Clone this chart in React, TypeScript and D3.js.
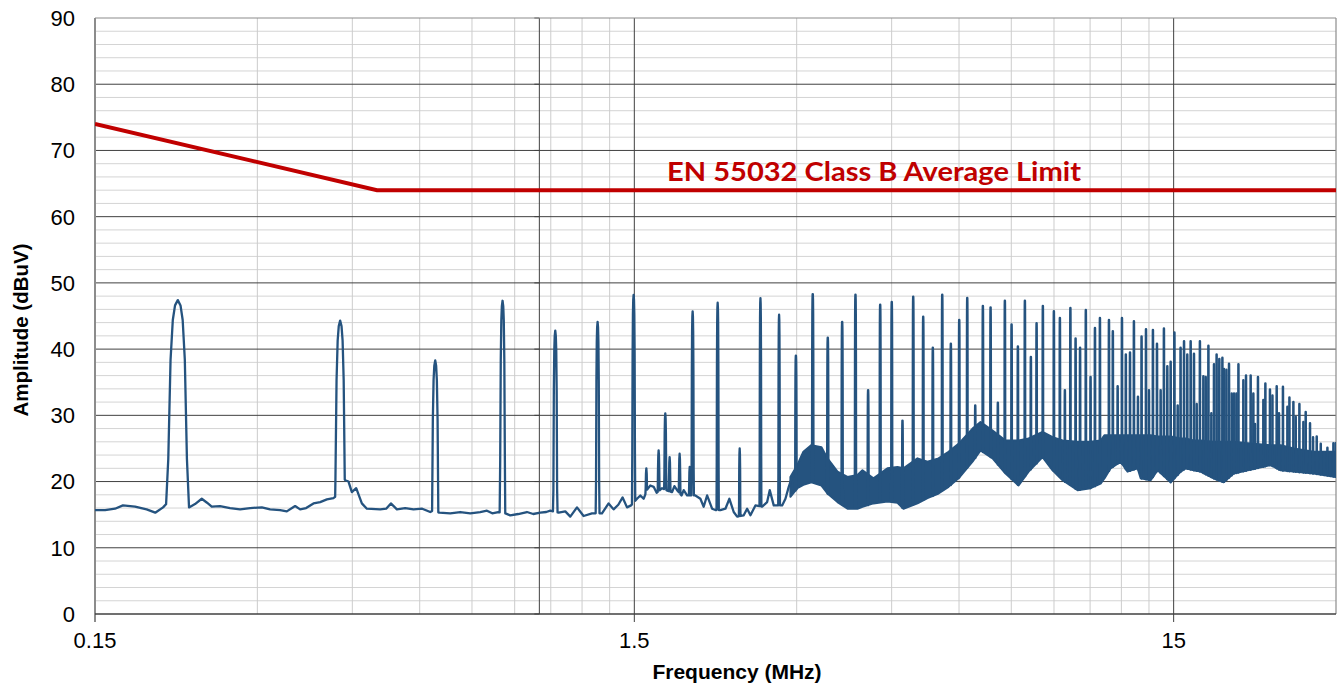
import React from "react";
import * as d3 from "d3";

// Axis ticks
const yTickValues = [0, 10, 20, 30, 40, 50, 60, 70, 80, 90];
const xTickValues = [0.15, 1.5, 15];
const xTickLabels = ["0.15", "1.5", "15"];
const xMinorGrid = [0.3, 0.45, 0.6, 0.75, 0.9, 1.05, 1.2, 1.35, 3, 4.5, 6, 7.5, 9, 10.5, 12, 13.5];
const markerFreq = 1.0;

// EN 55032 Class B average limit (MHz, dBuV)
const limitFreq = [0.15, 0.5, 30];
const limitDb = [74, 64, 64];

// Noise floor of the measured spectrum below ~3 MHz (MHz, dBuV)
const floorFreq = [
  0.15, 0.1566, 0.1634, 0.169, 0.178, 0.187, 0.194, 0.2006, 0.2032, 0.2241, 0.2299, 0.2366, 0.242,
  0.2469, 0.2558, 0.267, 0.2787, 0.2909, 0.3058, 0.3168, 0.3306, 0.3402, 0.3525, 0.3601, 0.3695,
  0.3812, 0.3923, 0.4037, 0.4152, 0.4182, 0.4365, 0.4427, 0.4491, 0.4575, 0.4687, 0.4788, 0.5069,
  0.52, 0.5305, 0.5443, 0.5639, 0.5843, 0.6064, 0.6275, 0.6342, 0.6529, 0.6834, 0.7133, 0.7445,
  0.7769, 0.7995, 0.8178, 0.839, 0.8645, 0.8831, 0.9139, 0.9484, 0.9743, 1.0039, 1.03, 1.0478,
  1.0856, 1.1171, 1.1412, 1.1743, 1.2079, 1.252, 1.3066, 1.344, 1.373, 1.4009, 1.4269, 1.454,
  1.479, 1.5174, 1.539, 1.5608, 1.585, 1.606, 1.629, 1.65, 1.6886, 1.73, 1.7624, 1.78, 1.8005,
  1.835, 1.8519, 1.879, 1.9467, 1.9887, 2.0169, 2.0465, 2.0907, 2.1204, 2.1662, 2.213, 2.2511,
  2.2929, 2.3265, 2.393, 2.428, 2.4626, 2.5157, 2.5887, 2.6445, 2.674, 2.7201, 2.8194, 2.8595,
  2.9001, 2.9426,
];
const floorDb = [
  15.7, 15.7, 15.9, 16.4, 16.2, 15.8, 15.3, 16.1, 16.6, 16.1, 16.6, 17.4, 16.8,
  16.2, 16.3, 16.0, 15.8, 16.0, 16.1, 15.8, 15.7, 15.5, 16.3, 15.8, 16.0,
  16.7, 16.9, 17.3, 17.5, 17.7, 20.2, 20.0, 18.4, 19.0, 16.7, 15.9, 15.8,
  15.9, 16.7, 15.8, 16.0, 15.8, 15.9, 15.4, 15.6, 15.3, 15.2, 15.4, 15.2,
  15.4, 15.6, 15.2, 15.4, 15.2, 14.9, 15.1, 15.4, 15.1, 15.3, 15.4, 15.6,
  15.3, 15.5, 14.7, 16.1, 14.8, 15.2, 15.2, 16.7, 15.8, 16.5, 17.6, 16.1,
  16.4, 17.4, 17.9, 17.4, 18.8, 19.4, 19.2, 18.3, 19.0, 18.6, 18.4, 19.3, 18.7,
  17.9, 18.7, 17.9, 17.9, 17.4, 16.2, 17.9, 15.9, 15.7, 15.7, 15.9, 17.4,
  15.4, 14.7, 14.9, 15.9, 14.9, 16.4, 16.2, 16.9, 18.7, 16.4, 16.4, 17.4,
  19.2, 20.7,
];

// Dense emission band above ~3 MHz: lower and upper edges (MHz, dBuV)
const bandFreq = [
  2.9205, 3.009, 3.087, 3.195, 3.335, 3.422, 3.571, 3.727, 3.889, 3.973, 4.164, 4.42, 4.613, 4.733,
  5.025, 5.244, 5.497, 5.737, 5.988, 6.356, 6.577, 6.924, 7.319, 7.737, 8.075, 8.571, 8.946, 9.336,
  9.953, 10.52, 10.98, 11.17, 11.46, 11.96, 12.32, 12.86, 13.03, 13.6, 14.01, 14.81, 15.46, 15.79,
  16.34, 16.83, 17.79, 18.57, 19.38, 20.58, 22.7, 23.69, 25.04, 27.28, 30,
];
const bandLow = [
  17.7, 19.0, 19.5, 19.9, 19.4, 18.2, 16.9, 15.9, 15.9, 16.2, 16.7, 17.0, 16.8, 15.9,
  16.7, 17.5, 18.2, 19.2, 20.5, 23.0, 24.7, 23.5, 21.2, 19.4, 21.5, 23.7, 21.7, 20.2,
  18.7, 19.0, 19.7, 20.5, 22.0, 23.0, 21.5, 22.0, 20.5, 20.2, 21.7, 19.9, 21.5, 22.0,
  21.7, 21.5, 20.5, 19.9, 21.2, 21.7, 22.5, 21.7, 21.5, 21.2, 20.7,
];
const bandHigh = [
  20.7, 22.5, 24.5, 25.5, 25.2, 23.5, 21.5, 20.7, 21.0, 21.7, 20.5, 22.0, 22.2, 22.0,
  23.5, 23.0, 23.5, 24.5, 25.7, 28.0, 29.0, 27.7, 26.2, 26.2, 26.5, 27.5, 26.7, 26.2,
  26.0, 26.0, 26.2, 27.0, 27.0, 27.0, 27.0, 27.0, 27.0, 27.0, 26.8, 26.8, 26.5, 26.5,
  26.2, 26.2, 26.0, 26.0, 26.0, 25.8, 25.5, 25.5, 25.0, 24.5, 24.5,
];

// Harmonic / spurious peaks (MHz, dBuV)
const peakFreq = [
  0.2136, 0.4272, 0.6411, 0.8546, 1.0703, 1.2823, 1.4955, 1.579, 1.664, 1.712, 1.744, 1.82, 1.9,
  1.924, 2.141, 2.352, 2.57, 2.783, 2.99, 3.213, 3.426, 3.643, 3.856, 4.07, 4.285, 4.502, 4.713,
  4.934, 5.149, 5.365, 5.585, 5.794, 6.005, 6.214, 6.43, 6.643, 6.865, 7.082, 7.297, 7.509, 7.714,
  7.948, 8.154, 8.355, 8.582, 8.995, 9.229, 9.428, 9.652, 9.869, 10.06, 10.31, 10.52, 10.72, 10.95,
  11.38, 11.57, 11.81, 12.03, 12.23, 12.45, 12.66, 12.88, 13.08, 13.33, 13.5, 13.73, 13.97, 14.19,
  14.39, 14.6, 14.81, 15.05, 15.26, 15.45, 15.68, 15.9, 16.13, 16.36, 16.55, 16.78, 17.03, 17.2,
  17.4, 17.62, 17.82, 18.02, 18.23, 18.47, 18.6, 18.79, 19.0, 19.22, 19.41, 19.61, 19.78, 20.2,
  20.43, 20.84, 21.08, 21.23, 21.5, 22.0, 22.19, 22.63, 22.87, 23.29, 23.52, 23.92, 24.38, 24.59,
  25.01, 25.26, 25.66, 26.1, 26.36, 26.85, 27.2, 27.63, 28.11, 28.51, 28.92, 29.25, 29.67, 29.95,
];
const peakDb = [
  47.4, 44.3, 38.3, 47.3, 42.8, 44.1, 48.2, 22.0, 24.7, 30.3, 23.7, 24.2, 22.2,
  45.7, 47.0, 25.0, 47.7, 45.2, 39.0, 48.3, 41.7, 44.1, 48.2, 33.8, 46.7, 47.1, 29.2,
  47.9, 44.9, 40.2, 48.2, 40.8, 44.4, 47.7, 31.5, 46.5, 46.3, 31.9, 47.3, 43.7, 40.4,
  47.3, 38.8, 43.9, 46.5, 45.7, 44.7, 33.8, 46.2, 41.6, 40.2, 45.9, 35.8, 43.2, 44.7,
  44.4, 42.7, 34.4, 44.7, 39.2, 39.5, 44.2, 32.8, 41.9, 43.0, 33.8, 42.9, 40.8, 33.8,
  43.1, 37.4, 38.1, 42.5, 31.5, 40.2, 41.2, 39.2, 41.2, 39.3, 31.7, 41.2, 35.9, 35.8,
  40.5, 30.3, 37.7, 39.2, 38.5, 38.7, 37.0, 36.9, 37.8, 33.3, 33.3, 33.3, 37.7, 35.3,
  36.0, 36.0, 33.3, 28.7, 35.8, 32.3, 34.8, 33.9, 33.0, 34.4, 30.3, 34.3, 31.3, 32.7,
  32.0, 29.8, 31.7, 29.0, 30.5, 28.8, 26.7, 26.8, 25.7, 24.3, 25.1, 24.1, 25.8, 25.8,
];

// Receiver filter skirt: frequency offset from a carrier (MHz) vs. level below its peak (dB)
const rbwOffset = [0, 0.0025, 0.0045, 0.0065, 0.0085, 0.0105];
const rbwDrop = [0, 0.8, 3, 9, 24, 42];

const TRACE = "#25537f";
const LIMIT = "#c00000";
const TICK_FONT = "'Liberation Sans', Arial, sans-serif";

export default function App() {
  const width = 1342;
  const height = 685;
  const x0 = 95;
  const x1 = 1336;
  const yTop = 18;
  const yBot = 614;

  const x = d3.scaleLog().domain([0.15, 30]).range([x0, x1]);
  const y = d3.scaleLinear().domain([0, 90]).range([yBot, yTop]);

  const floorAt = d3.scaleLinear().domain(floorFreq).range(floorDb).clamp(true);
  const bandLowAt = d3.scaleLinear().domain(bandFreq).range(bandLow).clamp(true);
  const dropAt = d3.scaleLinear().domain(rbwOffset).range(rbwDrop).clamp(true);
  const skirt = rbwOffset[rbwOffset.length - 1];
  const bandStart = bandFreq[0];

  const peaks = peakFreq.map((f, i) => ({ f, db: peakDb[i] }));
  const lowPeaks = peaks.filter((p) => p.f < bandStart);
  const highPeaks = peaks.filter((p) => p.f >= bandStart);

  // Low-frequency trace: floor with the carriers riding on it
  const freqs: number[] = [...floorFreq];
  lowPeaks.forEach((p) => {
    rbwOffset.forEach((o) => {
      freqs.push(p.f - o, p.f + o);
    });
  });
  const sorted = Array.from(new Set(freqs))
    .filter((f) => f >= floorFreq[0] && f <= floorFreq[floorFreq.length - 1])
    .sort((a, b) => a - b);
  const lowTrace = sorted.map((f) => {
    let v = floorAt(f);
    lowPeaks.forEach((p) => {
      const d = Math.abs(f - p.f);
      if (d <= skirt) v = Math.max(v, p.db - dropAt(d));
    });
    return [f, v] as [number, number];
  });

  const line = d3
    .line<[number, number]>()
    .x((d) => x(d[0]))
    .y((d) => y(d[1]));

  const bandData = bandFreq.map((f, i) => ({ f, lo: bandLow[i], hi: bandHigh[i] }));
  const area = d3
    .area<{ f: number; lo: number; hi: number }>()
    .x((d) => x(d.f))
    .y0((d) => y(d.lo))
    .y1((d) => y(d.hi));

  const spikePaths = highPeaks.map((p) => {
    const offs = [...rbwOffset.slice(1).reverse().map((o) => -o), ...rbwOffset];
    const pts = offs.map((o) => {
      const f = Math.min(30, Math.max(0.15, p.f + o));
      const v = Math.max(bandLowAt(f), p.db - dropAt(Math.abs(o)));
      return [f, v] as [number, number];
    });
    return line(pts) || "";
  });

  const limitPath = line(limitFreq.map((f, i) => [f, limitDb[i]] as [number, number])) || "";

  const hMinor = d3.range(2, 90, 2).filter((v) => v % 10 !== 0);
  const hMajor = yTickValues.filter((v) => v > 0 && v < 90);

  return (
    <svg width={width} height={height} style={{ display: "block", position: "absolute", left: 0, top: 0 }}>
      <rect x={0} y={0} width={width} height={height} fill="#ffffff" />
      <defs>
        <clipPath id="plot-clip">
          <rect x={x0} y={yTop} width={x1 - x0} height={yBot - yTop} />
        </clipPath>
      </defs>

      {/* minor gridlines */}
      <g stroke="#d4d4d4" strokeWidth={1}>
        {hMinor.map((v) => (
          <line key={`hm${v}`} x1={x0} x2={x1} y1={y(v)} y2={y(v)} />
        ))}
      </g>
      <g stroke="#cccccc" strokeWidth={1}>
        {xMinorGrid.map((f) => (
          <line key={`vm${f}`} x1={x(f)} x2={x(f)} y1={yTop} y2={yBot} />
        ))}
      </g>

      {/* major gridlines */}
      <g stroke="#404040" strokeWidth={1}>
        {hMajor.map((v) => (
          <line key={`hM${v}`} x1={x0} x2={x1} y1={y(v)} y2={y(v)} />
        ))}
        {xTickValues.slice(1).map((f) => (
          <line key={`vM${f}`} x1={x(f)} x2={x(f)} y1={yTop} y2={yBot + 8} />
        ))}
        <line x1={x(markerFreq)} x2={x(markerFreq)} y1={yTop} y2={yBot} />
        {yTickValues.map((v) => (
          <line key={`mt${v}`} x1={x(markerFreq) - 5} x2={x(markerFreq)} y1={y(v)} y2={y(v)} />
        ))}
      </g>

      {/* plot frame */}
      <line x1={x0} x2={x1} y1={yTop} y2={yTop} stroke="#8c8c8c" strokeWidth={1.2} />
      <line x1={x1} x2={x1} y1={yTop} y2={yBot} stroke="#8c8c8c" strokeWidth={1.2} />
      <line x1={x0} x2={x0} y1={yTop} y2={yBot + 8} stroke="#8c8c8c" strokeWidth={2} />
      <line x1={x0} x2={x1} y1={yBot} y2={yBot} stroke="#404040" strokeWidth={1.5} />

      {/* spectrum */}
      <g clipPath="url(#plot-clip)">
        <path d={area(bandData) || ""} fill={TRACE} stroke={TRACE} strokeWidth={2} strokeLinejoin="round" />
        {spikePaths.map((d, i) => (
          <path key={`sp${i}`} d={d} fill="none" stroke={TRACE} strokeWidth={2.5} strokeLinejoin="round" />
        ))}
        <path d={line(lowTrace) || ""} fill="none" stroke={TRACE} strokeWidth={2.3} strokeLinejoin="round" />
        <path d={limitPath} fill="none" stroke={LIMIT} strokeWidth={4} />
      </g>

      <text
        x={667}
        y={181}
        fill={LIMIT}
        fontFamily="Lato, 'Open Sans', sans-serif"
        fontWeight={700}
        fontSize={27}
        textLength={414}
        lengthAdjust="spacingAndGlyphs"
      >
        EN 55032 Class B Average Limit
      </text>

      {/* y tick labels */}
      <g fontFamily={TICK_FONT} fontSize={22} fill="#000" textAnchor="end">
        {yTickValues.map((v) => (
          <text key={`yl${v}`} x={75} y={y(v)} dy="0.36em">
            {v}
          </text>
        ))}
      </g>

      {/* x tick labels */}
      <g fontFamily={TICK_FONT} fontSize={22} fill="#000" textAnchor="middle">
        {xTickValues.map((f, i) => (
          <text key={`xl${f}`} x={x(f)} y={648}>
            {xTickLabels[i]}
          </text>
        ))}
      </g>

      <text x={737} y={679} textAnchor="middle" fontFamily={TICK_FONT} fontWeight={700} fontSize={21}>
        Frequency (MHz)
      </text>
      <text
        transform={`translate(28, 330) rotate(-90)`}
        textAnchor="middle"
        fontFamily={TICK_FONT}
        fontWeight={700}
        fontSize={20.5}
      >
        Amplitude (dBuV)
      </text>
    </svg>
  );
}
